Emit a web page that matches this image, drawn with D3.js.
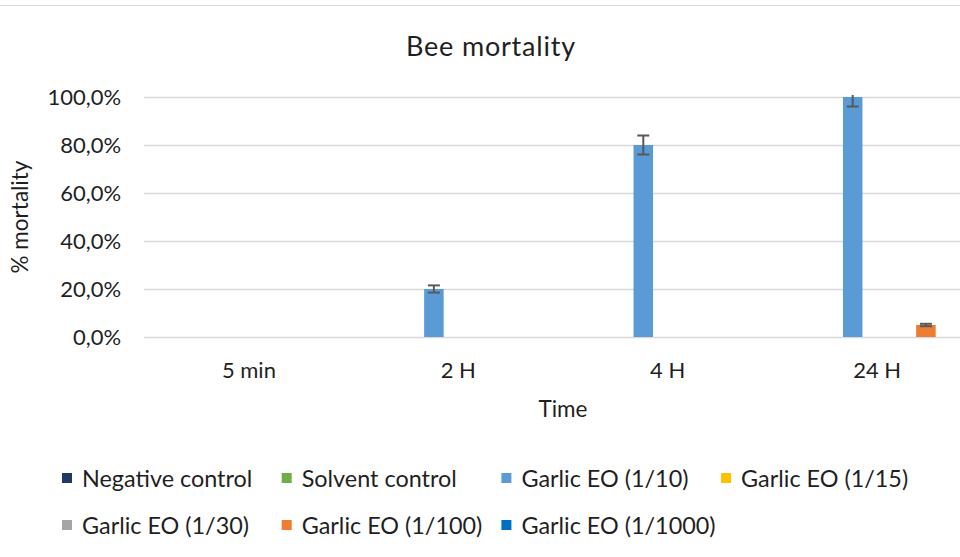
<!DOCTYPE html>
<html>
<head>
<meta charset="utf-8">
<script src="https://cdn.jsdelivr.net/npm/d3@7"></script>
<style>
  body { margin: 0; background: #fff; }
  text { font-family: Lato, "Open Sans", sans-serif; fill: #1f1f1f; }
</style>
</head>
<body>
<div id="chart"></div>
<script>
var width = 960;
var height = 557;

// data
var categories = ["5 min", "2 H", "4 H", "24 H"];
var seriesNames = ["Negative control", "Solvent control", "Garlic EO (1/10)", "Garlic EO (1/15)",
  "Garlic EO (1/30)", "Garlic EO (1/100)", "Garlic EO (1/1000)"];
var seriesColors = ["#203864", "#70ad47", "#5b9bd5", "#ffc000", "#a5a5a5", "#ed7d31", "#0070c0"];
var negativeControl = [0, 0, 0, 0];
var solventControl = [0, 0, 0, 0];
var garlic10 = [0, 20, 80, 100];
var garlic15 = [0, 0, 0, 0];
var garlic30 = [0, 0, 0, 0];
var garlic100 = [0, 0, 0, 5];
var garlic1000 = [0, 0, 0, 0];
var garlic10Err = [0, 1.5, 4, 4];
var garlic100Err = [0, 0, 0, 0.5];
var zeroErr = [0, 0, 0, 0];
var yTicks = [0, 20, 40, 60, 80, 100];

var seriesValues = [negativeControl, solventControl, garlic10, garlic15, garlic30, garlic100, garlic1000];
var seriesErrors = [zeroErr, zeroErr, garlic10Err, zeroErr, zeroErr, garlic100Err, zeroErr];

var series = seriesNames.map(function(name, i) {
  return { name: name, color: seriesColors[i], values: seriesValues[i], errors: seriesErrors[i] };
});

var svg = d3.select("#chart").append("svg")
  .attr("width", width)
  .attr("height", height)

// chart border (top edge visible)
svg.append("line")
  .attr("x1", 0).attr("x2", width)
  .attr("y1", 5.5).attr("y2", 5.5)
  .attr("stroke", "#d9d9d9")
  .attr("stroke-width", 1.2)

var plotLeft = 144.2, plotRight = 981.8, plotTop = 97, plotBottom = 337;

var x = d3.scaleBand().domain(categories).range([plotLeft, plotRight]);
var xInner = d3.scaleBand().domain(d3.range(series.length))
  .range([0, x.bandwidth()])
  .paddingInner(0.2)
  .paddingOuter(0.89);
var y = d3.scaleLinear().domain([0, 100]).range([plotBottom, plotTop]);

var fmt = d3.formatLocale({ decimal: ",", thousands: ".", grouping: [3], currency: ["", ""] }).format(".1f");

// gridlines
svg.append("g")
  .attr("transform", "translate(" + plotLeft + ",0)")
  .call(d3.axisLeft(y).tickValues(yTicks).tickSize(-(plotRight - plotLeft)).tickFormat(""))
  .call(function(g) {
    g.select(".domain").remove();
    g.selectAll("line").attr("stroke", "#d9d9d9").attr("stroke-width", 1.3);
  })

// y axis labels
svg.append("g")
  .attr("transform", "translate(" + plotLeft + ",0)")
  .call(d3.axisLeft(y).tickValues(yTicks).tickSize(0).tickPadding(23)
    .tickFormat(function(d) { return fmt(d) + "%"; }))
  .call(function(g) {
    g.select(".domain").remove();
    g.selectAll("text").attr("font-size", "22px").attr("fill", "#1f1f1f")
      .style("font-family", "Lato, sans-serif");
  })

// x axis labels
svg.append("g")
  .attr("transform", "translate(0," + plotBottom + ")")
  .call(d3.axisBottom(x).tickSize(0).tickPadding(25))
  .call(function(g) {
    g.select(".domain").remove();
    g.selectAll("text").attr("font-size", "22px").attr("fill", "#1f1f1f")
      .style("font-family", "Lato, sans-serif");
  })

svg.append("clipPath")
  .attr("id", "plot-clip")
  .append("rect")
  .attr("x", plotLeft).attr("y", plotTop - 2)
  .attr("width", plotRight - plotLeft).attr("height", plotBottom - plotTop + 10)

var plot = svg.append("g").attr("clip-path", "url(#plot-clip)")

var groups = plot.selectAll("g.series")
  .data(series)
  .enter().append("g")
  .attr("class", "series")

groups.selectAll("rect")
  .data(function(s, i) {
    return categories.map(function(c, j) {
      return { cat: c, idx: i, value: s.values[j], err: s.errors[j], color: s.color };
    });
  })
  .enter().append("rect")
  .attr("x", function(d) { return x(d.cat) + xInner(d.idx); })
  .attr("y", function(d) { return y(d.value); })
  .attr("width", xInner.bandwidth())
  .attr("height", function(d) { return y(0) - y(d.value); })
  .attr("fill", function(d) { return d.color; })

// error bars
var errData = [];
series.forEach(function(s, i) {
  categories.forEach(function(c, j) {
    if (s.values[j] > 0) errData.push({ cat: c, idx: i, value: s.values[j], err: s.errors[j] });
  });
});

var errG = plot.selectAll("g.err")
  .data(errData)
  .enter().append("g")
  .attr("class", "err")
  .attr("stroke", "#595959")
  .attr("stroke-width", 2)

function cx(d) { return x(d.cat) + xInner(d.idx) + xInner.bandwidth() / 2; }

errG.append("line")
  .attr("x1", cx).attr("x2", cx)
  .attr("y1", function(d) { return y(d.value + d.err); })
  .attr("y2", function(d) { return y(d.value - d.err); })
errG.append("line")
  .attr("x1", function(d) { return cx(d) - 6; })
  .attr("x2", function(d) { return cx(d) + 6; })
  .attr("y1", function(d) { return y(d.value + d.err); })
  .attr("y2", function(d) { return y(d.value + d.err); })
errG.append("line")
  .attr("x1", function(d) { return cx(d) - 6; })
  .attr("x2", function(d) { return cx(d) + 6; })
  .attr("y1", function(d) { return y(d.value - d.err); })
  .attr("y2", function(d) { return y(d.value - d.err); })

// titles
svg.append("text")
  .attr("x", 491)
  .attr("y", 56)
  .attr("text-anchor", "middle")
  .attr("font-size", "27px")
  .attr("letter-spacing", "0.8px")
  .text("Bee mortality")

svg.append("text")
  .attr("transform", "translate(28," + ((plotTop + plotBottom) / 2) + ") rotate(-90)")
  .attr("text-anchor", "middle")
  .attr("font-size", "22.5px")
  .text("% mortality")

svg.append("text")
  .attr("x", (plotLeft + plotRight) / 2)
  .attr("y", 417)
  .attr("text-anchor", "middle")
  .attr("font-size", "22.5px")
  .text("Time")

// legend
var legend = svg.selectAll("g.legend")
  .data(series)
  .enter().append("g")
  .attr("class", "legend")
  .attr("transform", function(d, i) {
    return "translate(" + (62 + (i % 4) * 219.7) + "," + (i < 4 ? 473 : 520) + ")";
  })

legend.append("rect")
  .attr("width", 10)
  .attr("height", 10)
  .attr("fill", function(d) { return d.color; })

legend.append("text")
  .attr("x", 20)
  .attr("y", 14)
  .attr("font-size", "23.4px")
  .text(function(d) { return d.name; })
</script>
</body>
</html>
